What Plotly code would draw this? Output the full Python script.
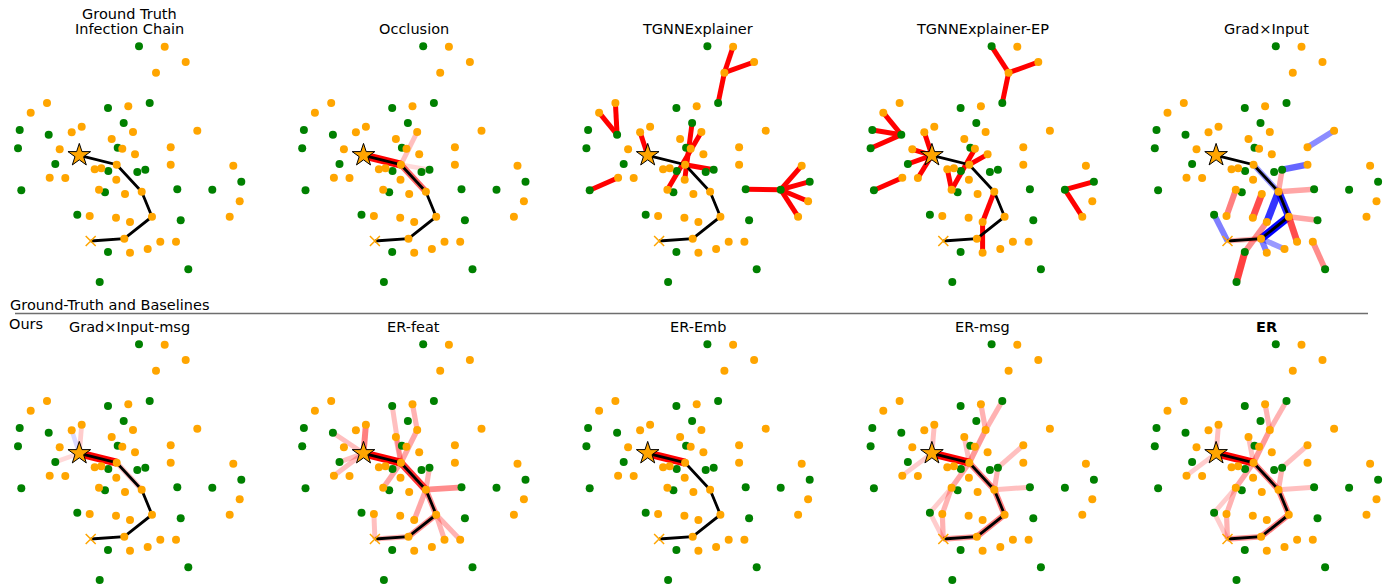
import plotly.graph_objects as go

# ---------------------------------------------------------------------------
# Graph layout: node names, positions and node class (g = green, o = orange,
# S = source (star), X = final infected node, chain nodes A-D are orange)
# ---------------------------------------------------------------------------
node_names = [
    "g0", "g1", "g2", "g3", "g4", "g5", "g6", "g7", "g8", "g9", "g10",
    "g11", "g12", "g13", "g14", "g15", "g16", "g17", "g18", "g19", "g20", "g21",
    "o0", "o1", "o2", "o3", "o4", "o5", "o6", "o7", "o8", "o9", "o10",
    "o11", "o12", "o13", "o14", "o15", "o16", "o17", "o18", "o19", "o20",
    "o21", "o22", "o23", "o24", "o25", "o26", "o27", "o28", "o29", "o30",
    "o31", "o32",
    "S", "A", "B", "C", "D", "X",
]
node_x = [
    139.0, 108.0, 149.7, 123.7, 19.7, 48.7, 18.0, 117.7, 55.3, 108.3, 137.3,
    145.3, 21.3, 105.0, 177.3, 212.3, 241.3, 77.3, 180.7, 108.0, 188.3, 99.7,
    164.7, 185.7, 156.0, 47.0, 30.7, 128.3, 81.7, 71.7, 133.0, 197.3, 111.7,
    59.7, 122.3, 170.7, 135.0, 94.7, 101.3, 170.7, 233.3, 49.7, 65.3,
    116.3, 99.0, 125.0, 239.7, 89.7, 116.0, 130.0, 229.7, 160.3, 176.0,
    147.7, 130.0,
    79.3, 116.7, 141.7, 152.0, 124.3, 90.7,
]
node_y = [
    46.3, 108.0, 103.0, 123.0, 130.0, 134.7, 148.3, 147.7, 164.0, 171.0, 172.0,
    169.7, 190.3, 192.3, 189.3, 189.7, 181.7, 214.7, 220.3, 252.0, 269.3, 282.0,
    46.7, 62.0, 72.7, 103.0, 112.7, 106.3, 126.7, 132.3, 132.0, 130.7, 139.0,
    149.3, 148.7, 147.3, 154.3, 169.3, 168.3, 164.7, 165.7, 177.7, 178.0,
    179.7, 189.7, 194.0, 201.3, 216.0, 217.7, 222.0, 216.7, 241.7, 241.7,
    249.0, 252.7,
    155.3, 164.7, 191.7, 216.7, 238.7, 241.0,
]
node_group = ["green"] * 22 + ["orange"] * 33 + ["source", "orange", "orange",
                                                  "orange", "orange", "target"]

# ground-truth infection chain
infection_chain = ["S", "A", "B", "C", "D", "X"]

# ---------------------------------------------------------------------------
# Explanation edge scores per method (positive = red, negative = blue)
# ---------------------------------------------------------------------------
panel_titles = [
    "Ground Truth<br>Infection Chain", "Occlusion", "TGNNExplainer",
    "TGNNExplainer-EP", "Grad\u00d7Input",
    "Grad\u00d7Input-msg", "ER-feat", "ER-Emb", "ER-msg", "<b>ER</b>",
]

ground_truth_edges = []

occlusion_edges = [
    ("S", "A", 1.0), ("A", "B", 0.6), ("A", "o8", 0.25), ("A", "g11", 0.15),
]

tgnn_edges = [
    ("o0", "o2", 1.0), ("o1", "o2", 1.0), ("o2", "g2", 1.0),
    ("o3", "g5", 1.0), ("o4", "g5", 1.0), ("o7", "S", 1.0),
    ("g12", "o19", 1.0), ("g14", "g15", 1.0), ("g15", "o18", 1.0),
    ("g15", "g16", 1.0), ("g15", "o24", 1.0), ("g15", "o28", 1.0),
    ("g3", "o21", 1.0), ("o8", "o22", 1.0), ("A", "g11", 1.0),
]

tgnn_ep_edges = [
    ("g0", "o2", 1.0), ("o1", "o2", 1.0), ("o2", "g2", 1.0),
    ("o4", "g5", 1.0), ("g4", "g5", 1.0), ("g6", "g5", 1.0),
    ("o7", "S", 1.0), ("o11", "S", 1.0), ("g8", "S", 1.0), ("o20", "S", 1.0),
    ("g12", "o19", 1.0), ("g15", "g16", 1.0), ("g15", "o28", 1.0),
    ("A", "o14", 1.0), ("o12", "o22", 1.0), ("o15", "o22", 1.0),
    ("B", "o27", 1.0), ("o27", "o32", 1.0),
]

grad_input_edges = [
    ("o9", "o13", -0.45), ("g11", "o17", -0.6), ("A", "B", -0.4),
    ("B", "C", -0.85), ("C", "D", -1.0), ("D", "X", 0.3),
    ("g11", "B", 0.35), ("B", "g14", 0.35), ("C", "g18", 0.35),
    ("o22", "o25", 0.5), ("o23", "o26", 0.7), ("g17", "X", -0.5),
    ("B", "o27", -0.8), ("D", "o31", -0.4), ("D", "o32", -0.5),
    ("C", "o29", 0.7), ("o30", "g20", 0.45), ("g19", "g21", 0.75),
    ("g19", "o27", 0.45),
]

grad_input_msg_edges = [
    ("S", "A", 1.0), ("A", "B", 0.25), ("S", "o6", 0.2),
    ("S", "o7", -0.15), ("S", "g8", 0.15),
]

er_feat_edges = [
    ("S", "A", 1.0), ("A", "B", 0.8), ("B", "C", 0.45), ("C", "D", 0.45),
    ("D", "X", 0.3), ("S", "o6", 0.5), ("S", "g5", 0.25), ("S", "g8", 0.25),
    ("S", "o19", 0.25), ("A", "g1", 0.25), ("A", "o8", 0.35), ("o8", "o5", 0.3),
    ("A", "o10", 0.3), ("A", "o22", 0.35), ("B", "g14", 0.45), ("B", "g11", 0.3),
    ("B", "o27", 0.35), ("C", "o29", 0.3), ("C", "o30", 0.3), ("X", "o25", 0.25),
]

er_emb_edges = [("S", "A", 1.0)]

er_msg_edges = [
    ("S", "A", 1.0), ("A", "B", 0.5), ("B", "C", 0.5), ("C", "D", 0.5),
    ("D", "X", 0.4), ("S", "o6", 0.25), ("S", "o19", 0.2), ("A", "o8", 0.4),
    ("o8", "o5", 0.3), ("o8", "g2", 0.3), ("A", "o10", 0.25), ("A", "o22", 0.35),
    ("o22", "o25", 0.3), ("X", "o25", 0.3), ("g17", "X", 0.2), ("g17", "o22", 0.2),
    ("B", "g14", 0.25), ("B", "g11", 0.3), ("g11", "o13", 0.25),
]

er_edges = list(er_msg_edges)

panel_edges = [
    ground_truth_edges, occlusion_edges, tgnn_edges, tgnn_ep_edges,
    grad_input_edges, grad_input_msg_edges, er_feat_edges, er_emb_edges,
    er_msg_edges, er_edges,
]
# binary masks are drawn with a fixed stroke
binary_mask_panels = {2, 3}

# ---------------------------------------------------------------------------
# Figure geometry (pixels)
# ---------------------------------------------------------------------------
W, H = 1395, 585
col_step, row_step = 284.2, 298.0
x_lo, x_hi = 5.0, 250.0
y_lo, y_hi = 40.0, 287.0

pos = {n: (x, y) for n, x, y in zip(node_names, node_x, node_y)}

RED = (255, 0, 0)
BLUE = (0, 0, 255)
ORANGE = "#ffa500"
GREEN = "#008000"

fig = go.Figure()
layout_axes = {}

for k, edges in enumerate(panel_edges):
    r, c = divmod(k, 5)
    suffix = "" if k == 0 else str(k + 1)
    xa, ya = "x" + suffix, "y" + suffix

    # explanation edges
    for a, b, s in edges:
        rgb = RED if s >= 0 else BLUE
        alpha = abs(s)
        width = 5.0 if k in binary_mask_panels else 4.0 + 4.0 * abs(s)
        fig.add_trace(go.Scatter(
            x=[pos[a][0], pos[b][0]], y=[pos[a][1], pos[b][1]],
            mode="lines", xaxis=xa, yaxis=ya, hoverinfo="skip",
            line=dict(color=f"rgba({rgb[0]},{rgb[1]},{rgb[2]},{alpha})",
                      width=width),
            showlegend=False, cliponaxis=False,
        ))

    # ground-truth chain
    fig.add_trace(go.Scatter(
        x=[pos[n][0] for n in infection_chain],
        y=[pos[n][1] for n in infection_chain],
        mode="lines", xaxis=xa, yaxis=ya, hoverinfo="skip",
        line=dict(color="black", width=2.8), showlegend=False, cliponaxis=False,
    ))

    # nodes
    for grp, color in (("green", GREEN), ("orange", ORANGE)):
        xs = [x for x, g in zip(node_x, node_group) if g == grp]
        ys = [y for y, g in zip(node_y, node_group) if g == grp]
        fig.add_trace(go.Scatter(
            x=xs, y=ys, mode="markers", xaxis=xa, yaxis=ya, hoverinfo="skip",
            marker=dict(color=color, size=8, line=dict(width=0)),
            showlegend=False, cliponaxis=False,
        ))
    fig.add_trace(go.Scatter(
        x=[pos["S"][0]], y=[pos["S"][1]], mode="markers", xaxis=xa, yaxis=ya,
        marker=dict(symbol="star", color=ORANGE, size=17,
                    line=dict(color="black", width=1)),
        hoverinfo="skip", showlegend=False, cliponaxis=False,
    ))
    fig.add_trace(go.Scatter(
        x=[pos["X"][0]], y=[pos["X"][1]], mode="markers", xaxis=xa, yaxis=ya,
        marker=dict(symbol="x-thin-open", color=ORANGE, size=10,
                    line=dict(color=ORANGE, width=1.5)),
        hoverinfo="skip", showlegend=False, cliponaxis=False,
    ))

    x0 = c * col_step + x_lo
    x1 = c * col_step + x_hi
    ytop = r * row_step + y_lo
    ybot = r * row_step + y_hi
    axis_style = dict(visible=False, showgrid=False, zeroline=False,
                      fixedrange=True)
    layout_axes["xaxis" + suffix] = dict(
        domain=[x0 / W, x1 / W], range=[x_lo, x_hi], anchor=ya, **axis_style)
    layout_axes["yaxis" + suffix] = dict(
        domain=[max(0.0, 1 - ybot / H), 1 - ytop / H], range=[y_hi, y_lo],
        anchor=xa, **axis_style)

# titles
FONT = dict(family="DejaVu Sans", size=14.5, color="black")
annotations = []
title_rows_y = [29.0, 327.0]
for k, t in enumerate(panel_titles):
    r, c = divmod(k, 5)
    cx = 129.5 + c * col_step
    if k == 0:
        for line, yy in zip(t.split("<br>"), (13.5, 29.0)):
            annotations.append(dict(
                text=line, x=cx / W, y=1 - yy / H, xref="paper", yref="paper",
                xanchor="center", yanchor="middle", showarrow=False, font=FONT))
    else:
        annotations.append(dict(
            text=t, x=cx / W, y=1 - title_rows_y[r] / H, xref="paper",
            yref="paper", xanchor="center", yanchor="middle", showarrow=False,
            font=FONT))

annotations.append(dict(
    text="Ground-Truth and Baselines", x=8 / W, y=1 - 304.5 / H, xref="paper",
    yref="paper", xanchor="left", yanchor="middle", showarrow=False, font=FONT))
annotations.append(dict(
    text="Ours", x=7 / W, y=1 - 323.5 / H, xref="paper", yref="paper",
    xanchor="left", yanchor="middle", showarrow=False, font=FONT))

fig.update_layout(
    width=W, height=H, margin=dict(l=0, r=0, t=0, b=0),
    paper_bgcolor="white", plot_bgcolor="white",
    annotations=annotations,
    shapes=[dict(type="line", xref="paper", yref="paper",
                 x0=15 / W, x1=1368 / W, y0=1 - 313.5 / H, y1=1 - 313.5 / H,
                 line=dict(color="#6e6e6e", width=1.5))],
    **layout_axes,
)

fig.write_html("out.html")
